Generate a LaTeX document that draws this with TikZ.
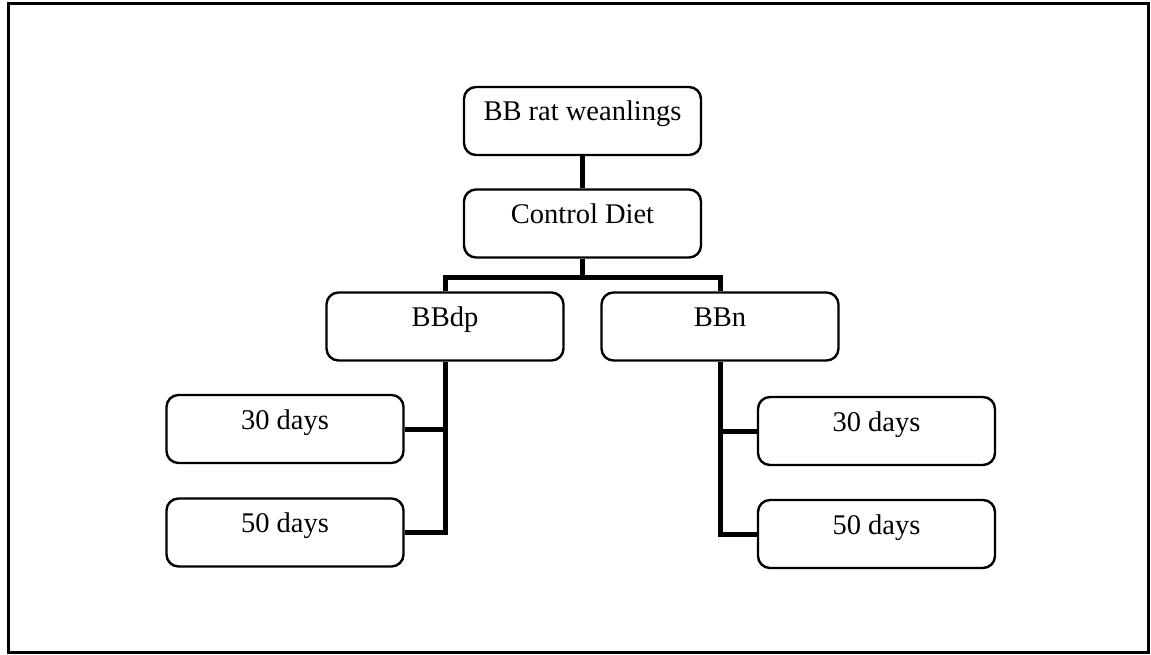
\documentclass[tikz,border=0pt]{standalone}
\usepackage{fontspec}
\setmainfont{Liberation Serif}
\usetikzlibrary{calc}
\begin{document}
\begin{tikzpicture}[x=1pt,y=-1pt,
  box/.style={draw=black, line width=2.4pt, rounded corners=12pt, inner sep=0pt,
    minimum width=237pt, minimum height=68pt, text height=18pt, text depth=18pt,
    font=\fontsize{28.5}{30}\selectfont},
  conn/.style={draw=black, line width=5pt}]
\useasboundingbox (0,0) rectangle (1151,655);
\draw[line width=3pt] (8,4) rectangle (1148,652);
\node[box] (top) at (582.5,121) {BB rat weanlings};
\node[box] (diet) at (582.5,223.5) {Control Diet};
\node[box] (bbdp) at (445,326.5) {BBdp};
\node[box] (bbn) at (720,326.5) {BBn};
\node[box] (d30L) at (285,429) {30 days};
\node[box] (d50L) at (285,532.5) {50 days};
\node[box] (d30R) at (876.5,431) {30 days};
\node[box] (d50R) at (876.5,534) {50 days};
\coordinate (j) at ($(diet.south)+(0,19)$);
\draw[conn] (top.south) -- (diet.north);
\draw[conn] (diet.south) -- (j);
\draw[conn] (bbdp.north) |- (j) -| (bbn.north);
\draw[conn] (bbdp.south) |- (d50L.east);
\draw[conn] (d30L.east) -- (d30L.east -| bbdp.south);
\draw[conn] (bbn.south) |- (d50R.west);
\draw[conn] (d30R.west) -- (d30R.west -| bbn.south);
\end{tikzpicture}
\end{document}
